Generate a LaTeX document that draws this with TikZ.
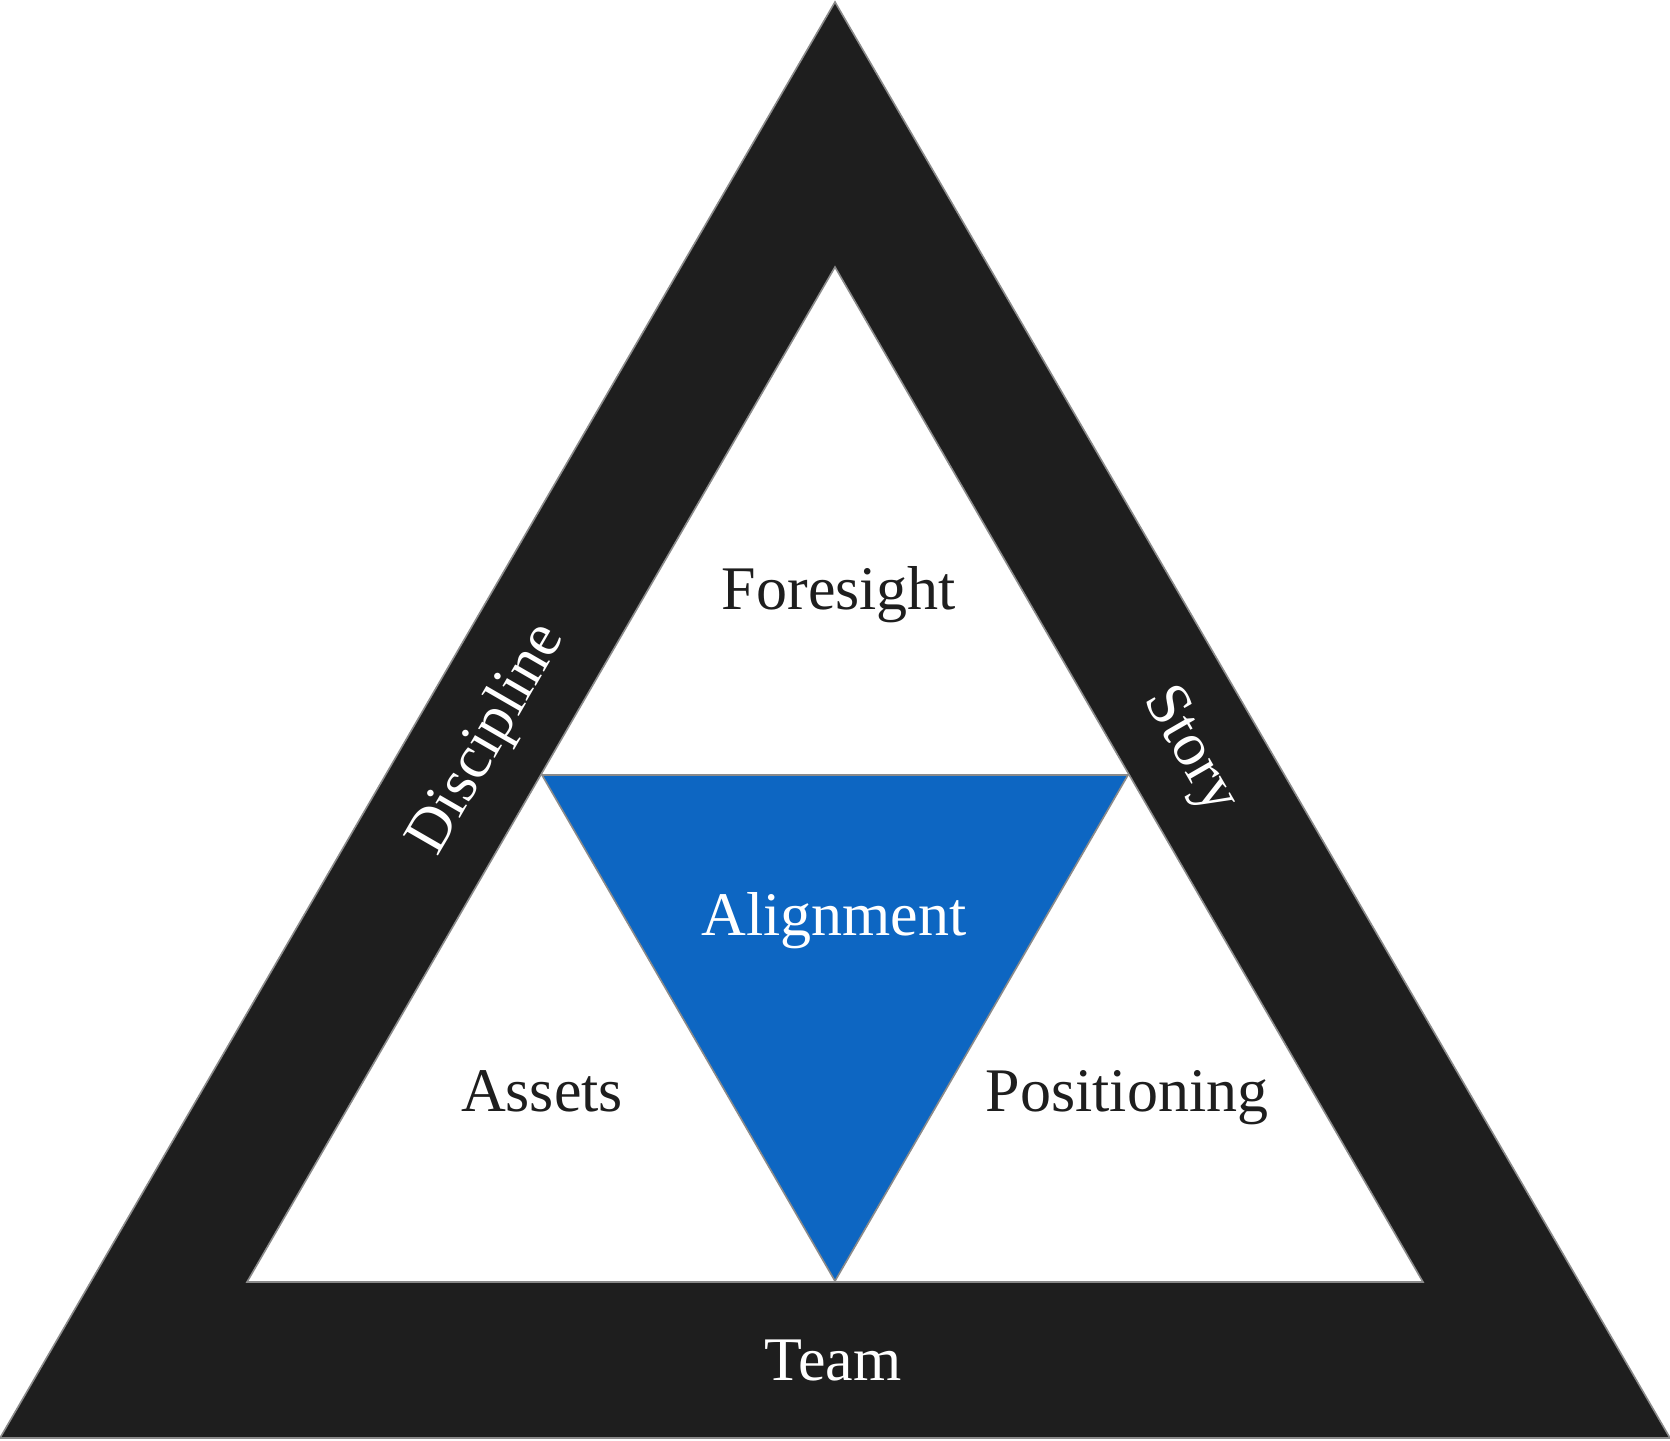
\documentclass[tikz,border=0pt]{standalone}
\usepackage{fontspec}
\setmainfont{Liberation Serif}
\definecolor{darkband}{HTML}{1E1E1E}
\definecolor{blueal}{HTML}{0D66C2}
\definecolor{edgegray}{HTML}{8A8A8A}
\begin{document}
\begin{tikzpicture}[x=0.5pt,y=-0.5pt,
  lbl/.style={font=\fontsize{31}{33}\selectfont, inner sep=0pt},
  dark/.style={lbl, text=darkband},
  light/.style={lbl, text=white}]
\useasboundingbox (0,0) rectangle (1670,1440);
% outer triangle
\coordinate (OA) at (835,2);
\coordinate (OL) at (0,1438);
\coordinate (OR) at (1670,1438);
% inner triangle
\coordinate (IA) at (835,267);
\coordinate (IL) at (247,1282);
\coordinate (IR) at (1423,1282);
% blue triangle
\coordinate (BL) at (542,775);
\coordinate (BR) at (1128,775);
\coordinate (BB) at (835,1281);
\fill[darkband] (OA) -- (OL) -- (OR) -- cycle;
\draw[edgegray, line width=0.8pt] (OA) -- (OL) -- (OR) -- cycle;
\fill[white] (IA) -- (IL) -- (IR) -- cycle;
\draw[edgegray, line width=0.8pt] (IA) -- (IL) -- (IR) -- cycle;
\fill[blueal] (BL) -- (BR) -- (BB) -- cycle;
\draw[edgegray, line width=0.8pt] (BL) -- (BR) -- (BB) -- cycle;
% labels
\node[dark, anchor=base] (fore) at (839,609) {Foresight};
\node[light, anchor=base] (align) at (834,935) {Alignment};
\node[dark, anchor=base] (assets) at (542,1111) {Assets};
\node[dark, anchor=base] (pos) at (1127,1111) {Positioning};
\node[light, anchor=base] (team) at (833,1380) {Team};
\node[light, rotate=60] (disc) at (488,740) {Discipline};
\node[light, rotate=-60] (story) at (1189,751) {Story};
\end{tikzpicture}
\end{document}
